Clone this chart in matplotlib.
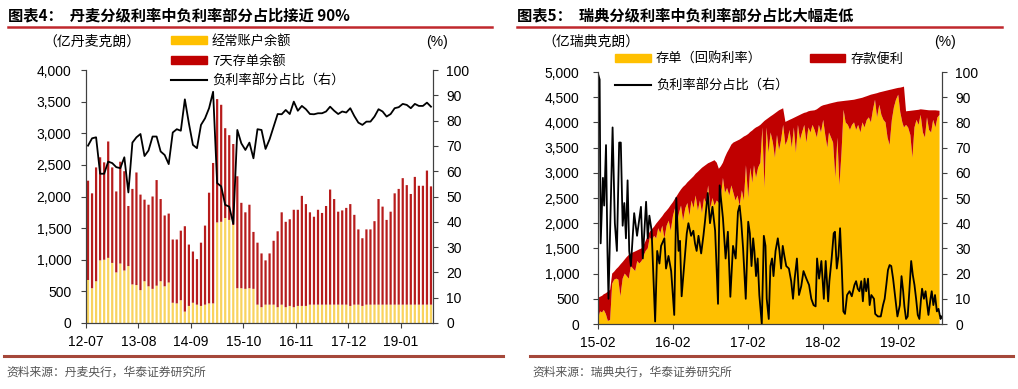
import matplotlib
matplotlib.use('Agg')
import matplotlib.pyplot as plt
import matplotlib.dates as mdates
from matplotlib.lines import Line2D
from matplotlib.patches import Patch
import numpy as np
import pandas as pd

CJK = ['Noto Sans CJK SC', 'DejaVu Sans']
plt.rcParams['font.family'] = ['Liberation Sans', 'Noto Sans CJK SC']

# ---- 图表4: Denmark, monthly 2012-07 .. 2019-08 (亿丹麦克朗 / %)
dk_months = pd.period_range('2012-07', '2019-08', freq='M')
dk_current = [680, 550, 660, 990, 1000, 1030, 950, 800, 940, 830,
              900, 610, 600, 520, 660, 580, 540, 590, 660, 580,
              640, 320, 310, 360, 180, 270, 320, 290, 270, 290,
              310, 310, 1590, 1600, 1660, 1630, 1550, 550, 550, 540,
              550, 540, 290, 250, 290, 290, 290, 250, 290, 250,
              270, 250, 270, 270, 270, 290, 290, 290, 290, 290,
              290, 290, 290, 290, 290, 270, 290, 290, 270, 290,
              290, 290, 290, 290, 290, 290, 290, 290, 290, 290,
              290, 290, 290, 290, 290, 290]
dk_cd7 = [1570, 1500, 1800, 1630, 1540, 1840, 1510, 1280, 1610, 1570,
          950, 1510, 1780, 1510, 1290, 1290, 1460, 1670, 1300, 1120,
          1090, 1000, 1010, 1100, 1350, 970, 810, 720, 1000, 1250,
          1750, 2220, 1950, 1850, 1420, 1340, 1280, 1770, 1350, 1210,
          1320, 900, 980, 850, 700, 810, 1010, 1200, 1460, 1350,
          1370, 1540, 1520, 1740, 1610, 1460, 1390, 1500, 1450, 1560,
          1820, 1670, 1470, 1490, 1530, 1610, 1420, 1190, 1070, 1190,
          1190, 1320, 1670, 1550, 1340, 1470, 1760, 1830, 2000, 1890,
          1750, 2020, 1880, 1880, 2120, 1870]
dk_neg_share = [70.1, 73, 73.4, 59, 59, 63.8, 63.2, 61.6, 61.2, 65.5,
                51.6, 71.3, 73.4, 74.7, 66, 68.2, 73.7, 73.7, 67.8, 66.4,
                62.8, 75.3, 76.6, 76, 88.4, 78.9, 70.4, 69.1, 78.3, 80.9,
                84.9, 91.4, 55.3, 54, 46.7, 46, 39.2, 76.3, 71, 68.4,
                71.3, 65.1, 76.6, 76.3, 68.8, 72.6, 77.6, 82.6, 82.5, 84.2,
                82.6, 87.5, 83.9, 85.8, 84.5, 82.6, 82.5, 82.9, 82.9, 83.6,
                85.5, 83.9, 82.6, 83.6, 83.2, 84.9, 81.8, 79.2, 78.3, 79.6,
                79.6, 81.6, 84.5, 83.6, 81.6, 82.6, 84.9, 85.3, 86.6, 86.2,
                84.9, 86.6, 85.8, 85.8, 87.1, 85.5]
dk_tick_every = 13

# ---- 图表5: Sweden, sampled on the 1st/11th/21st of each month (亿瑞典克朗)
se_months = pd.date_range('2015-02-01', '2019-08-01', freq='MS')
se_dates = [m + pd.Timedelta(days=d) for m in se_months for d in (0, 10, 20)]
se_cert = [100, 250, 230, 280, 200, 60, 80, 800, 880, 900,
           880, 550, 900, 1000, 950, 900, 1150, 1100, 1050, 1250,
           1200, 1250, 1350, 1450, 1500, 1720, 1650, 1750, 1700, 1900,
           1800, 1950, 1700, 1950, 2050, 1850, 2150, 2300, 2000, 2200,
           2350, 2050, 2300, 2400, 2150, 2450, 2300, 2550, 2250, 2450,
           2200, 2500, 2400, 2750, 2300, 2500, 2350, 2450, 2400, 2500,
           2900, 2600, 2700, 2550, 2750, 2600, 2450, 2550, 2350, 2650,
           2450, 3150, 2500, 3100, 2800, 3150, 2900, 3100, 3200, 3900,
           2700, 3900, 3400, 3800, 3600, 3300, 3750, 3450, 3650, 3950,
           3550, 3650, 3850, 3500, 3900, 3400, 3950, 3650, 3800, 3950,
           3600, 3900, 3800, 3950, 3850, 3700, 3950, 3800, 4050, 3750,
           3500, 3800, 3700, 3600, 2900, 3700, 2750, 3400, 4250, 4000,
           3950, 3850, 3950, 4000, 3850, 3950, 3800, 4000, 3900, 4050,
           4100, 4000, 4250, 4450, 4100, 4350, 4150, 4050, 4000, 3700,
           3550, 4050, 4300, 4450, 4550, 4200, 4000, 3900, 3950, 3900,
           3750, 3300, 3900, 4050, 3950, 4150, 3800, 3700, 4100, 3850,
           3800, 4050, 3900, 4100, 4150]
se_deposit = [420, 290, 330, 310, 410, 580, 600, 200, 160, 190,
              250, 630, 330, 280, 380, 470, 250, 320, 390, 210,
              280, 250, 210, 200, 250, 110, 230, 180, 290, 140,
              290, 190, 500, 300, 250, 510, 270, 190, 550, 410,
              320, 670, 460, 410, 700, 440, 630, 430, 770, 610,
              900, 630, 760, 440, 910, 730, 900, 750, 680, 630,
              300, 710, 700, 930, 810, 1000, 1170, 1090, 1310, 1040,
              1270, 590, 1270, 710, 1040, 720, 1000, 820, 750, 90,
              1330, 160, 690, 320, 550, 880, 460, 790, 610, 330,
              460, 380, 200, 570, 190, 710, 180, 500, 370, 240,
              600, 320, 430, 285, 390, 560, 340, 520, 290, 600,
              860, 570, 680, 790, 1500, 710, 1665, 1020, 175, 430,
              485, 590, 495, 450, 610, 520, 680, 490, 605, 470,
              435, 550, 310, 120, 480, 245, 455, 565, 625, 935,
              1095, 605, 365, 225, 135, 490, 700, 810, 270, 325,
              480, 935, 340, 195, 300, 110, 455, 550, 145, 390,
              440, 190, 340, 135, 80]
se_share_dates = [
    '2015-02-02', '2015-02-09', '2015-02-14', '2015-02-25', '2015-03-03', '2015-03-12',
    '2015-03-19', '2015-03-24', '2015-04-13', '2015-04-24', '2015-05-04', '2015-05-15',
    '2015-05-23', '2015-06-01', '2015-06-09', '2015-06-17', '2015-06-25', '2015-07-03',
    '2015-07-11', '2015-07-27', '2015-08-10', '2015-08-29', '2015-09-07', '2015-09-23',
    '2015-10-01', '2015-10-09', '2015-10-20', '2015-11-06', '2015-11-16', '2015-11-27',
    '2015-12-05', '2015-12-21', '2015-12-29', '2016-01-10', '2016-01-23', '2016-02-07',
    '2016-02-17', '2016-02-28', '2016-03-06', '2016-03-14', '2016-03-27', '2016-04-08',
    '2016-04-16', '2016-04-29', '2016-05-10', '2016-05-18', '2016-05-26', '2016-06-04',
    '2016-06-17', '2016-06-28', '2016-07-06', '2016-07-19', '2016-07-30', '2016-08-11',
    '2016-08-24', '2016-09-07', '2016-09-15', '2016-10-01', '2016-10-14', '2016-10-25',
    '2016-11-06', '2016-11-19', '2016-12-02', '2016-12-13', '2016-12-21', '2016-12-29',
    '2017-01-07', '2017-01-20', '2017-02-01', '2017-02-09', '2017-02-17', '2017-02-25',
    '2017-03-03', '2017-03-11', '2017-03-19', '2017-03-27', '2017-04-08', '2017-04-18',
    '2017-04-26', '2017-05-02', '2017-05-12', '2017-05-20', '2017-05-28', '2017-06-04',
    '2017-06-14', '2017-06-25', '2017-07-03', '2017-07-11', '2017-07-19', '2017-07-27',
    '2017-08-05', '2017-08-18', '2017-08-29', '2017-09-07', '2017-09-15', '2017-09-26',
    '2017-10-06', '2017-10-17', '2017-10-28', '2017-11-11', '2017-11-24', '2017-12-05',
    '2017-12-16', '2017-12-26', '2018-01-02', '2018-01-12', '2018-01-23', '2018-02-04',
    '2018-02-13', '2018-02-25', '2018-03-03', '2018-03-14', '2018-03-24', '2018-03-30',
    '2018-04-08', '2018-04-16', '2018-04-24', '2018-05-02', '2018-05-10', '2018-05-18',
    '2018-05-28', '2018-06-09', '2018-06-20', '2018-07-03', '2018-07-11', '2018-07-19',
    '2018-07-27', '2018-08-05', '2018-08-13', '2018-08-21', '2018-08-29', '2018-09-07',
    '2018-09-15', '2018-09-23', '2018-10-06', '2018-10-12', '2018-10-25', '2018-11-08',
    '2018-11-19', '2018-11-27', '2018-12-05', '2018-12-13', '2018-12-21', '2018-12-29',
    '2019-01-07', '2019-01-18', '2019-01-28', '2019-02-09', '2019-02-17', '2019-02-25',
    '2019-03-03', '2019-03-11', '2019-03-19', '2019-03-27', '2019-04-05', '2019-04-13',
    '2019-04-21', '2019-04-29', '2019-05-07', '2019-05-15', '2019-05-23', '2019-05-28',
    '2019-06-06', '2019-06-14', '2019-06-22', '2019-06-28', '2019-07-08', '2019-07-14',
    '2019-07-22', '2019-07-30', '2019-08-08', '2019-08-16', '2019-08-26', '2019-08-30']
se_share = [99, 97, 32, 58, 47, 71,
            29, 10, 78, 40, 29, 72,
            72, 39, 48, 34, 57, 29,
            23, 44, 35, 46.5, 26, 48.5,
            34, 43, 37, 1, 29, 24,
            31, 34, 22, 27, 21, 3.6,
            50, 29, 33, 11, 24, 36,
            40, 35, 37, 32, 29, 35,
            28, 35, 41, 52, 40, 46.5,
            37, 8, 55, 42, 26, 36.6,
            10.8, 31, 26, 44.5, 47, 40.6,
            30, 10, 40.6, 36, 23, 34,
            29, 19, 26, 11.5, 0, 35,
            31, 10, 2, 23, 26, 19,
            29, 34, 29, 22, 31, 27,
            23, 22, 17, 10, 18, 26,
            11.5, 15, 21, 18, 15.5, 10,
            7.5, 7, 26, 18, 25, 10,
            25, 9, 17, 26, 36, 36.6,
            22, 27, 38, 23, 5, 4,
            11.5, 13, 11, 15.5, 17, 14,
            13, 17, 9, 18, 13, 18,
            7.5, 11.5, 10, 4, 3, 3,
            7.5, 10, 15.5, 21.4, 23.4, 23,
            18, 10, 3, 7.5, 19, 13,
            7, 2, 3, 13, 25, 19.4,
            15.5, 10, 3.6, 2, 10, 14,
            10, 13, 7.5, 3.6, 10, 13,
            7.5, 11.5, 5, 6, 2, 3]
se_tick_dates = ['2015-02-01', '2016-02-01', '2017-02-01', '2018-02-01', '2019-02-01']

YELLOW = '#FFC000'
RED = '#C00000'
BAR_YELLOW = '#F8D35E'
BAR_RED = '#B71C1C'
SPINE = '#404040'

W, H = 1018, 389
fig = plt.figure(figsize=(W / 100, H / 100), dpi=100)


def fx(x):
    return x / W


def fy(y):
    return 1 - y / H


def axes_px(left, top, right, bottom):
    return fig.add_axes([fx(left), fy(bottom), (right - left) / W, (bottom - top) / H])


def style(ax, ax2):
    for a in (ax, ax2):
        a.spines['top'].set_visible(False)
        for s in a.spines.values():
            s.set_color(SPINE)
            s.set_linewidth(0.8)
        a.tick_params(direction='out', length=3.5, width=0.8, color=SPINE,
                      labelsize=10, labelcolor='black')
    ax.tick_params(axis='y', pad=7)
    ax.tick_params(axis='x', pad=5)
    ax2.tick_params(axis='y', pad=6)
    ax.yaxis.set_major_formatter(matplotlib.ticker.FuncFormatter(lambda v, p: f'{v:,.0f}'))
    ax2.set_ylim(0, 100)
    ax2.set_yticks(range(0, 101, 10))


def chrome(x0, x1, foot0, foot1, title, source):
    fig.text(fx(x0), fy(15), title, family=CJK, fontsize=11, fontweight='bold', va='center')
    fig.add_artist(Line2D([fx(x0), fx(x1)], [fy(27), fy(27)], color='#C0282D', lw=1.8))
    fig.add_artist(Line2D([fx(foot0), fx(foot1)], [fy(356), fy(356)], color='#A5483A', lw=2.2))
    fig.text(fx(foot0 + 2), fy(372), source, family=CJK, fontsize=8.5, color='#555555', va='center')


# ---------- left panel
ax = axes_px(86, 70, 433, 323)
x = np.arange(len(dk_months))
ax.bar(x, dk_current, width=0.55, color=BAR_YELLOW, lw=0, snap=False)
ax.bar(x, dk_cd7, bottom=dk_current, width=0.55, color=BAR_RED, lw=0, snap=False)
ax.set_xlim(-0.5, len(dk_months) - 0.5)
ax.set_ylim(0, 4000)
ax.set_yticks(range(0, 4001, 500))
ticks = x[::dk_tick_every]
ax.set_xticks(ticks - 0.5)
ax.set_xticklabels([f'{p.year % 100:02d}-{p.month:02d}' for p in dk_months[::dk_tick_every]])
ax2 = ax.twinx()
ax2.plot(x, dk_neg_share, color='black', lw=1.3)
style(ax, ax2)

chrome(8, 492, 4, 503, '图表4：  丹麦分级利率中负利率部分占比接近 90%', '资料来源：丹麦央行，华泰证券研究所')
fig.text(fx(43), fy(42), '（亿丹麦克朗）', family=CJK, fontsize=10, va='center')
fig.text(fx(437), fy(42), '(%)', fontsize=10, va='center', ha='center')
fig.legend([Patch(color=YELLOW), Patch(color=RED), Line2D([], [], color='black', lw=1.5)],
           ['经常账户余额', '7天存单余额', '负利率部分占比（右）'],
           loc='upper left', bbox_to_anchor=(fx(171), fy(35)), frameon=False,
           prop={'family': CJK, 'size': 9.5}, handlelength=2.7, handleheight=0.55,
           handletextpad=0.4, labelspacing=0.5, borderpad=0, borderaxespad=0)

# ---------- right panel
bx = axes_px(598, 72, 942, 324)
bx.stackplot(se_dates, se_cert, se_deposit, colors=[YELLOW, RED], lw=0)
bx.set_xlim(pd.Timestamp('2015-02-01'), pd.Timestamp('2019-09-02'))
bx.set_ylim(0, 5000)
bx.set_yticks(range(0, 5001, 500))
bx.set_xticks(pd.to_datetime(se_tick_dates))
bx.xaxis.set_major_formatter(mdates.DateFormatter('%y-%m'))
bx2 = bx.twinx()
bx2.plot(pd.to_datetime(se_share_dates), se_share, color='black', lw=1.3)
style(bx, bx2)
bx.tick_params(axis='y', pad=10)

chrome(517, 1002, 530, 1013, '图表5：  瑞典分级利率中负利率部分占比大幅走低', '资料来源：瑞典央行，华泰证券研究所')
fig.text(fx(542), fy(42), '（亿瑞典克朗）', family=CJK, fontsize=10, va='center')
fig.text(fx(945), fy(42), '(%)', fontsize=10, va='center', ha='center')
fig.legend([Patch(color=YELLOW), Line2D([], [], color='black', lw=1.5), Patch(color=RED)],
           ['存单（回购利率）', '负利率部分占比（右）', '存款便利'],
           ncol=2, loc='upper left', bbox_to_anchor=(fx(615), fy(53)), frameon=False,
           prop={'family': CJK, 'size': 9.5}, handlelength=2.7, handleheight=0.55,
           handletextpad=0.4, labelspacing=1.0, columnspacing=1.6,
           borderpad=0, borderaxespad=0)

fig.savefig('out.png', dpi=100)
